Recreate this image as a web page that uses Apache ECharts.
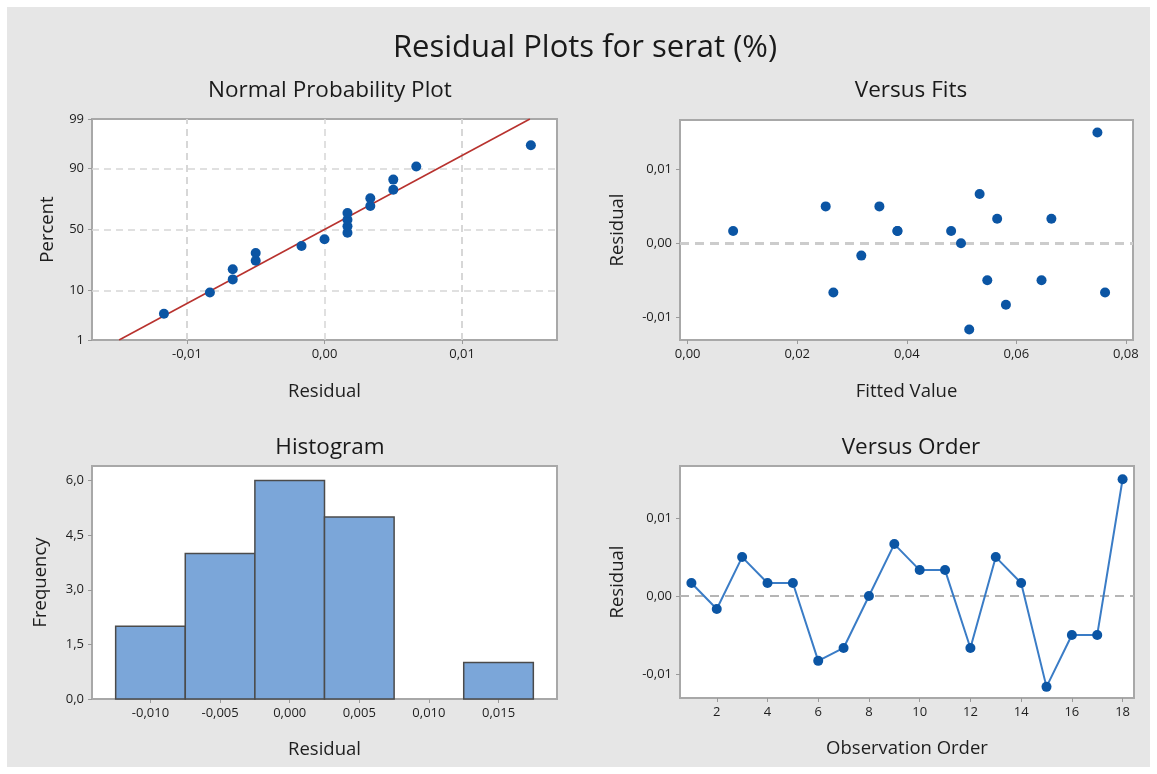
<!DOCTYPE html>
<html>
<head>
<meta charset="utf-8">
<title>Residual Plots for serat (%)</title>
<script src="https://cdn.jsdelivr.net/npm/echarts@6/dist/echarts.min.js"></script>
<style>
  html, body { margin: 0; padding: 0; background: #ffffff; }
  #chart { width: 1157px; height: 774px; }
</style>
</head>
<body>
<div id="chart"></div>
<script>
// Residuals in observation order
const residuals = [0.00167, -0.00167, 0.005, 0.00167, 0.00167, -0.00833, -0.00667, 0.0, 0.00667,
                   0.00333, 0.00333, -0.00667, 0.005, 0.00167, -0.01167, -0.005, -0.005, 0.015];
// Fitted values in observation order
const fits = [0.0083, 0.0317, 0.0252, 0.0383, 0.0383, 0.0581, 0.0266, 0.0499, 0.0533,
              0.0565, 0.0664, 0.0762, 0.0350, 0.0481, 0.0514, 0.0547, 0.0646, 0.0748];
// Histogram bins (centres) and their counts
const histCenters = [-0.010, -0.005, 0.000, 0.005, 0.010, 0.015];
const histCounts = [2, 4, 6, 5, 0, 1];
const binWidth = 0.005;
// Tick labels
const probTicks = [1, 10, 50, 90, 99];
const npXTicks = [-0.01, 0, 0.01];
const npGridX = [-0.015, -0.01, -0.005, 0, 0.005, 0.01, 0.015];
const fitTicks = [0, 0.02, 0.04, 0.06, 0.08];
const residTicks = [-0.01, 0, 0.01];
const histXTicks = [-0.010, -0.005, 0.000, 0.005, 0.010, 0.015];
const freqTicks = [0, 1.5, 3, 4.5, 6];
const orderTicks = [2, 4, 6, 8, 10, 12, 14, 16, 18];

// Inverse standard normal CDF (Acklam's approximation), used for the probability scale
function probit(p) {
  const a = [-3.969683028665376e+01, 2.209460984245205e+02, -2.759285104469687e+02, 1.383577518672690e+02, -3.066479806614716e+01, 2.506628277459239e+00];
  const b = [-5.447609879822406e+01, 1.615858368580409e+02, -1.556989798598866e+02, 6.680131188771972e+01, -1.328068155288572e+01];
  const c = [-7.784894002430293e-03, -3.223964580411365e-01, -2.400758277161838e+00, -2.549732539343734e+00, 4.374664141464968e+00, 2.938163982698783e+00];
  const d = [7.784695709041462e-03, 3.224671290700398e-01, 2.445134137142996e+00, 3.754408661907416e+00];
  const pl = 0.02425, ph = 1 - pl;
  let q, r;
  if (p < pl) {
    q = Math.sqrt(-2 * Math.log(p));
    return (((((c[0]*q+c[1])*q+c[2])*q+c[3])*q+c[4])*q+c[5]) / ((((d[0]*q+d[1])*q+d[2])*q+d[3])*q+1);
  }
  if (p <= ph) {
    q = p - 0.5; r = q * q;
    return (((((a[0]*r+a[1])*r+a[2])*r+a[3])*r+a[4])*r+a[5])*q / (((((b[0]*r+b[1])*r+b[2])*r+b[3])*r+b[4])*r+1);
  }
  q = Math.sqrt(-2 * Math.log(1 - p));
  return -(((((c[0]*q+c[1])*q+c[2])*q+c[3])*q+c[4])*q+c[5]) / ((((d[0]*q+d[1])*q+d[2])*q+d[3])*q+1);
}

// Normal probability plot: sorted residuals against median-rank plotting positions
const n = residuals.length;
const sorted = residuals.slice().sort((u, v) => u - v);
const npPoints = sorted.map((r, i) => [r, probit((i + 1 - 0.3) / (n + 0.4))]);
const mean = residuals.reduce((s, v) => s + v, 0) / n;
const sd = Math.sqrt(residuals.reduce((s, v) => s + (v - mean) * (v - mean), 0) / (n - 1));
const zLo = probit(probTicks[0] / 100), zHi = probit(probTicks[probTicks.length - 1] / 100);
const fitLine = [[mean + sd * zLo, zLo], [mean + sd * zHi, zHi]];
const probZ = probTicks.map(p => probit(p / 100));

const fitsPoints = fits.map((f, i) => [f, residuals[i]]);
const orderPoints = residuals.map((r, i) => [i + 1, r]);
const histData = histCenters.map((c, i) => [c, histCounts[i]]);

const FONT = '"Open Sans", "Noto Sans", sans-serif';
const dec = d => v => v.toFixed(d).replace('.', ',');
const labelStyle = { color: '#1e1e1e', fontSize: 13, fontFamily: FONT, margin: 8 };
const nameStyle = { color: '#1e1e1e', fontSize: 18.5, fontFamily: FONT };
const tickStyle = { show: true, length: 4, lineStyle: { color: '#9a9a9a', width: 1 } };
const titleStyle = { fontFamily: FONT, fontSize: 22.5, fontWeight: 'normal', color: '#1a1a1a' };

function axis(gridIndex, min, max, ticks, fmt, name, nameGap) {
  return {
    type: 'value', gridIndex, min, max,
    name, nameLocation: 'middle', nameGap, nameTextStyle: nameStyle,
    axisLine: { show: false, onZero: false },
    axisTick: Object.assign({ customValues: ticks }, tickStyle),
    axisLabel: Object.assign({ customValues: ticks, formatter: fmt }, labelStyle),
    splitLine: { show: false }
  };
}

const gridBox = { show: true, backgroundColor: '#ffffff', borderColor: '#a8a8a8', borderWidth: 2 };
const BLUE = '#0b55a4';

const option = {
  animation: false,
  backgroundColor: '#ffffff',
  graphic: [{
    type: 'rect', z: -10, silent: true,
    shape: { x: 7, y: 7, width: 1143, height: 760 },
    style: { fill: '#e6e6e6' }
  }],
  title: [
    { text: 'Residual Plots for serat (%)', left: 580, top: 28, textAlign: 'center',
      textStyle: { fontFamily: FONT, fontSize: 31, fontWeight: 'normal', color: '#1a1a1a' } },
    { text: 'Normal Probability Plot', left: 325, top: 74, textAlign: 'center', textStyle: titleStyle },
    { text: 'Versus Fits', left: 906, top: 74, textAlign: 'center', textStyle: titleStyle },
    { text: 'Histogram', left: 325, top: 431, textAlign: 'center', textStyle: titleStyle },
    { text: 'Versus Order', left: 906, top: 431, textAlign: 'center', textStyle: titleStyle }
  ],
  grid: [
    Object.assign({ left: 92, top: 119, width: 465, height: 221 }, gridBox),
    Object.assign({ left: 680, top: 120, width: 453, height: 220 }, gridBox),
    Object.assign({ left: 92, top: 466, width: 465, height: 233 }, gridBox),
    Object.assign({ left: 680, top: 466, width: 454, height: 232 }, gridBox)
  ],
  xAxis: [
    axis(0, -0.0169, 0.0169, npXTicks, dec(2), 'Residual', 42),
    axis(1, -0.0014, 0.0813, fitTicks, dec(2), 'Fitted Value', 42),
    axis(2, -0.0142, 0.0192, histXTicks, dec(3), 'Residual', 41),
    axis(3, 0.55, 18.45, orderTicks, v => String(Math.round(v)), 'Observation Order', 41)
  ],
  yAxis: [
    axis(0, zLo, zHi, probZ, v => {
      let best = 0;
      probZ.forEach((z, i) => { if (Math.abs(z - v) < Math.abs(probZ[best] - v)) best = i; });
      return String(probTicks[best]);
    }, 'Percent', 35),
    axis(1, -0.0131, 0.0167, residTicks, dec(2), 'Residual', 53),
    axis(2, 0, 6.4, freqTicks, dec(1), 'Frequency', 42),
    axis(3, -0.0131, 0.0167, residTicks, dec(2), 'Residual', 53)
  ],
  series: [
    // Fitted normal line with dashed reference grid
    {
      type: 'line', xAxisIndex: 0, yAxisIndex: 0, data: fitLine, z: 2,
      showSymbol: false, symbol: 'none',
      lineStyle: { color: '#b8322e', width: 1.6 },
      markLine: {
        silent: true, symbol: 'none', z: 1,
        label: { show: false },
        lineStyle: { color: '#d6d6d6', type: [7, 5], width: 1.5 },
        data: npGridX.map(x => ({ xAxis: x }))
          .concat(probZ.slice(1, -1).map(z => ({ yAxis: z })))
      }
    },
    {
      type: 'scatter', xAxisIndex: 0, yAxisIndex: 0, data: npPoints, z: 3,
      symbolSize: 10, itemStyle: { color: BLUE, opacity: 1 }
    },
    // Residuals versus fitted values
    {
      type: 'scatter', xAxisIndex: 1, yAxisIndex: 1, data: fitsPoints, z: 3,
      symbolSize: 10, itemStyle: { color: BLUE, opacity: 1 },
      markLine: {
        silent: true, symbol: 'none', z: 1,
        label: { show: false },
        lineStyle: { color: '#cccccc', type: [9, 6], width: 3 },
        data: [{ yAxis: 0 }]
      }
    },
    // Histogram of residuals
    {
      type: 'custom', xAxisIndex: 2, yAxisIndex: 2, data: histData, z: 2,
      renderItem: (params, api) => {
        const c = api.value(0), h = api.value(1);
        if (!h) return null;
        const p0 = api.coord([c - binWidth / 2, h]);
        const p1 = api.coord([c + binWidth / 2, 0]);
        return {
          type: 'rect',
          shape: { x: p0[0], y: p0[1], width: p1[0] - p0[0], height: p1[1] - p0[1] },
          style: { fill: '#7ba6d9', stroke: '#4b4b4b', lineWidth: 1.5 }
        };
      }
    },
    // Residuals versus observation order
    {
      type: 'line', xAxisIndex: 3, yAxisIndex: 3, data: orderPoints, z: 3,
      symbol: 'circle', symbolSize: 10,
      itemStyle: { color: BLUE, opacity: 1 },
      lineStyle: { color: '#3a7cc6', width: 2 },
      markLine: {
        silent: true, symbol: 'none', z: 1,
        label: { show: false },
        lineStyle: { color: '#b5b5b5', type: [9, 6], width: 2 },
        data: [{ yAxis: 0 }]
      }
    }
  ]
};

const chart = echarts.init(document.getElementById('chart'), null, { renderer: 'canvas' });
chart.setOption(option);
</script>
</body>
</html>
